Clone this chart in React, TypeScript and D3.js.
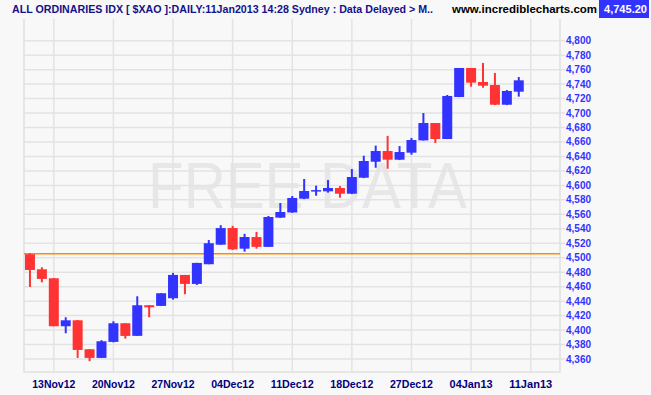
import React from "react";
import * as d3 from "d3";

// trading days, 12 Nov 2012 .. 11 Jan 2013
const dates = [
  "12Nov12", "13Nov12", "14Nov12", "15Nov12", "16Nov12",
  "19Nov12", "20Nov12", "21Nov12", "22Nov12", "23Nov12",
  "26Nov12", "27Nov12", "28Nov12", "29Nov12", "30Nov12",
  "03Dec12", "04Dec12", "05Dec12", "06Dec12", "07Dec12",
  "10Dec12", "11Dec12", "12Dec12", "13Dec12", "14Dec12",
  "17Dec12", "18Dec12", "19Dec12", "20Dec12", "21Dec12",
  "24Dec12", "27Dec12", "28Dec12", "31Dec12", "02Jan13",
  "03Jan13", "04Jan13", "07Jan13", "08Jan13", "09Jan13",
  "10Jan13", "11Jan13",
];

const open = [
  4504.8, 4484, 4471.6, 4405.3, 4413.5, 4373.5, 4361.5, 4383.6, 4409.4, 4392,
  4434.3, 4433.4, 4444, 4476.2, 4463.8, 4491, 4518, 4541, 4512.5, 4528.6,
  4515, 4555.4, 4562.6, 4581.6, 4591.5, 4591.8, 4596.4, 4588.5, 4610.6, 4632.7,
  4647.5, 4635.5, 4645.2, 4662.2, 4686.2, 4664.1, 4722.2, 4762.3, 4742.9, 4738.8,
  4711.5, 4729.5,
];
const high = [
  4506, 4486.8, 4471.6, 4417.7, 4414, 4373.5, 4386, 4412.2, 4409.4, 4446.7,
  4434.5, 4451, 4479, 4476.2, 4493, 4524.5, 4545, 4544, 4533, 4535.6,
  4557.7, 4575.6, 4585.3, 4608.8, 4599.6, 4607.4, 4599, 4622.6, 4641, 4655,
  4668.5, 4654.4, 4665.5, 4700, 4686.2, 4725, 4762.3, 4762.3, 4769.2, 4755.4,
  4731.8, 4749.8,
];
const low = [
  4459.6, 4466, 4405.3, 4395.6, 4361.5, 4357, 4361.5, 4383, 4388.2, 4392,
  4417.7, 4433.4, 4442, 4449.5, 4462.5, 4491, 4518, 4510.7, 4508.4, 4512.5,
  4515, 4555, 4562, 4581, 4585.7, 4590, 4583, 4588, 4610, 4624.4,
  4623, 4635, 4642.4, 4662, 4658.6, 4664, 4722, 4736.4, 4735, 4711,
  4711, 4722.7,
];
const close = [
  4483.1, 4470.7, 4405.3, 4413.5, 4372.5, 4361.5, 4384.5, 4409.4, 4391.9, 4434.3,
  4431.5, 4450.9, 4476.2, 4463.8, 4492.8, 4520, 4541, 4511.6, 4528.6, 4515,
  4556.3, 4563.2, 4582.6, 4592.2, 4593.5, 4596.4, 4588.5, 4611.6, 4633.7, 4647.5,
  4635.5, 4646.1, 4662.7, 4686.2, 4664.1, 4723.6, 4762.3, 4742, 4737.8, 4711.5,
  4730.5, 4745.2,
];

const dateTicks = [
  "13Nov12", "20Nov12", "27Nov12", "04Dec12", "11Dec12",
  "18Dec12", "27Dec12", "04Jan13", "11Jan13",
];
const priceTicks = [
  4360, 4380, 4400, 4420, 4440, 4460, 4480, 4500, 4520, 4540, 4560, 4580,
  4600, 4620, 4640, 4660, 4680, 4700, 4720, 4740, 4760, 4780, 4800,
];
const refLevel = 4505.5;

const W = 651;
const H = 395;
const left = 24;
const right = 560;
const top = 19;
const bottom = 372;

const UP = "#3333ff";
const DOWN = "#ff3333";
const GRID = "#e3e3e3";
const sans = "'Liberation Sans', Arial, sans-serif";

export default function App() {
  const x = d3.scaleLinear().domain([-0.5, 44.5]).range([left, right + 0.5]);
  const y = d3.scaleLinear().domain([4360, 4800]).range([359, 40.7]);
  const fmt = d3.format(",");

  const candles = dates.map((d, i) => ({
    d,
    o: open[i],
    h: high[i],
    l: low[i],
    c: close[i],
  }));

  const bodyW = 10;

  return (
    <svg
      width={W}
      height={H}
      style={{ position: "absolute", left: 0, top: 0, background: "#f8f8f8" }}
    >
      <rect x={0} y={0} width={W} height={H} fill="#f8f8f8" />

      {/* watermark */}
      <text
        x={148}
        y={208}
        fontFamily={sans}
        fontSize={64}
        fill="#e7e7e7"
        textLength={319}
        lengthAdjust="spacingAndGlyphs"
      >
        FREE DATA
      </text>

      {/* grid */}
      {priceTicks.map((t) => (
        <line
          key={t}
          x1={left}
          x2={565}
          y1={y(t)}
          y2={y(t)}
          stroke={GRID}
          strokeWidth={1.5}
        />
      ))}
      {dateTicks.map((t) => {
        const gx = x(dates.indexOf(t) + 1);
        return (
          <line
            key={t}
            x1={gx}
            x2={gx}
            y1={top}
            y2={bottom}
            stroke={GRID}
            strokeWidth={1.5}
          />
        );
      })}

      {/* frame */}
      <path
        d={`M${left},${top}V${bottom}H${right}V${top}`}
        fill="none"
        stroke="#e0e0e0"
        strokeWidth={1.5}
      />

      {/* reference line */}
      <line
        x1={left}
        x2={right}
        y1={y(refLevel)}
        y2={y(refLevel)}
        stroke="#ff8c00"
        strokeWidth={1.5}
      />

      {/* candles */}
      {candles.map((k, i) => {
        const cx = x(i);
        const col = k.c >= k.o ? UP : DOWN;
        const yt = y(Math.max(k.o, k.c));
        const yb = y(Math.min(k.o, k.c));
        return (
          <g key={k.d}>
            <rect x={cx - 1} y={y(k.h)} width={2} height={y(k.l) - y(k.h)} fill={col} />
            <rect
              x={cx - bodyW / 2}
              y={yt}
              width={bodyW}
              height={Math.max(yb - yt, 1.5)}
              fill={col}
            />
          </g>
        );
      })}

      {/* price labels */}
      {priceTicks.map((t) => (
        <text
          key={t}
          x={566}
          y={y(t)}
          dy="0.35em"
          fontFamily={sans}
          fontWeight="bold"
          fontSize={10}
          fill="#3333ff"
        >
          {fmt(t)}
        </text>
      ))}

      {/* date labels */}
      {dateTicks.map((t) => (
        <text
          key={t}
          x={x(dates.indexOf(t) + 1)}
          y={388}
          textAnchor="middle"
          fontFamily={sans}
          fontWeight="bold"
          fontSize={11}
          fill="#000080"
          textLength={43}
          lengthAdjust="spacingAndGlyphs"
        >
          {t}
        </text>
      ))}

      {/* header */}
      <text
        x={12}
        y={13}
        fontFamily={sans}
        fontWeight="bold"
        fontSize={11}
        fill="#12128a"
        textLength={421}
        lengthAdjust="spacingAndGlyphs"
      >
        ALL ORDINARIES IDX [ $XAO ]:DAILY:11Jan2013 14:28 Sydney : Data Delayed &gt; M..
      </text>
      <text
        x={452}
        y={13}
        fontFamily={sans}
        fontWeight="bold"
        fontSize={11}
        fill="#000000"
        textLength={145}
        lengthAdjust="spacingAndGlyphs"
      >
        www.incrediblecharts.com
      </text>
      <rect x={599} y={0} width={50} height={18} fill="#3333ff" />
      <text
        x={625.5}
        y={13}
        textAnchor="middle"
        fontFamily={sans}
        fontWeight="bold"
        fontSize={11}
        fill="#ffffff"
        textLength={43}
        lengthAdjust="spacingAndGlyphs"
      >
        {d3.format(",.2f")(close[close.length - 1])}
      </text>
    </svg>
  );
}
